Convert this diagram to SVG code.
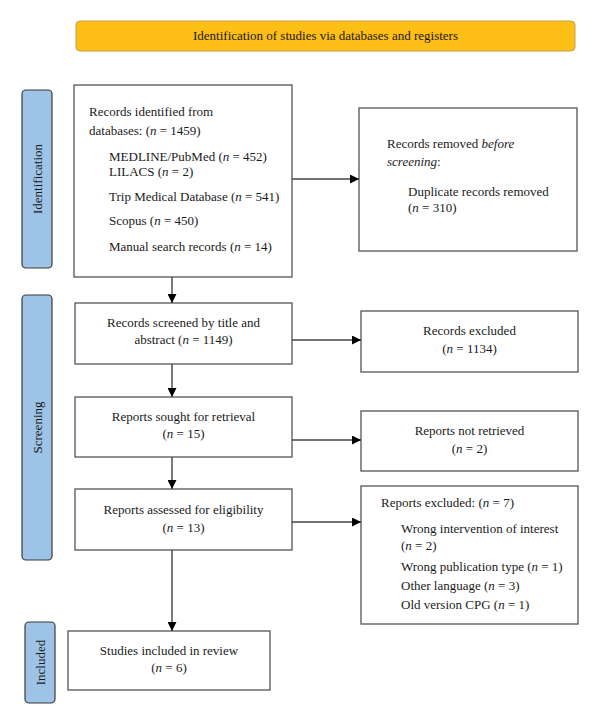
<svg xmlns="http://www.w3.org/2000/svg" width="600" height="725" viewBox="0 0 600 725">
<style>
text{font-family:"Liberation Serif","Times New Roman",serif;font-size:13px;fill:#1a1a1a}
.c{text-anchor:middle}
.i{font-style:italic}
.box{fill:#fff;stroke:#555;stroke-width:1.3}
.bar{fill:#9dc3e6;stroke:#3a3a3a;stroke-width:1.2}
.ln{stroke:#444;stroke-width:1.4;fill:none}
</style>
<defs>
<marker id="ah" viewBox="0 0 10 10" refX="10" refY="5" markerWidth="9" markerHeight="9" markerUnits="userSpaceOnUse" orient="auto">
<path d="M0,0 L10,5 L0,10 z" fill="#000"/>
</marker>
</defs>
<rect width="600" height="725" fill="#fff"/>

<g id="banner">
<rect x="76" y="21" width="499" height="30" rx="4" fill="#fdbe16" stroke="#c9a046" stroke-width="1"/>
<text x="325.5" y="40" class="c">Identification of studies via databases and registers</text>
</g>

<g id="phase-identification">
<rect class="bar" x="22" y="90" width="30" height="178" rx="4"/>
<text class="c" transform="translate(41.5,179) rotate(-90)">Identification</text>
</g>
<g id="phase-screening">
<rect class="bar" x="22" y="295" width="30" height="265" rx="4"/>
<text class="c" transform="translate(41.5,427.5) rotate(-90)">Screening</text>
</g>
<g id="phase-included">
<rect class="bar" x="25" y="622" width="30" height="81" rx="4"/>
<text class="c" transform="translate(44.5,662.5) rotate(-90)">Included</text>
</g>

<g id="records-identified">
<rect class="box" x="74" y="85" width="218" height="192"/>
<text x="89" y="116">Records identified from</text>
<text x="89" y="135">databases: (<tspan class="i">n</tspan> = 1459)</text>
<text x="109" y="160.5">MEDLINE/PubMed (<tspan class="i">n</tspan> = 452)</text>
<text x="109" y="175.5">LILACS (<tspan class="i">n</tspan> = 2)</text>
<text x="109" y="201">Trip Medical Database (<tspan class="i">n</tspan> = 541)</text>
<text x="109" y="225">Scopus (<tspan class="i">n</tspan> = 450)</text>
<text x="109" y="251">Manual search records (<tspan class="i">n</tspan> = 14)</text>
</g>

<g id="records-removed">
<rect class="box" x="359" y="108" width="218" height="143"/>
<text x="387" y="148">Records removed <tspan class="i">before</tspan></text>
<text x="387" y="166"><tspan class="i">screening</tspan>:</text>
<text x="408" y="196">Duplicate records removed</text>
<text x="408" y="212">(<tspan class="i">n</tspan> = 310)</text>
</g>

<g id="records-screened">
<rect class="box" x="75" y="303" width="217" height="61"/>
<text x="183.5" y="327" class="c">Records screened by title and</text>
<text x="183.5" y="344" class="c">abstract (<tspan class="i">n</tspan> = 1149)</text>
</g>

<g id="records-excluded">
<rect class="box" x="361" y="311" width="217" height="61"/>
<text x="469.5" y="335" class="c">Records excluded</text>
<text x="469.5" y="353" class="c">(<tspan class="i">n</tspan> = 1134)</text>
</g>

<g id="reports-sought">
<rect class="box" x="75" y="397" width="217" height="60"/>
<text x="183.5" y="421" class="c">Reports sought for retrieval</text>
<text x="183.5" y="438" class="c">(<tspan class="i">n</tspan> = 15)</text>
</g>

<g id="reports-not-retrieved">
<rect class="box" x="361" y="411" width="217" height="60"/>
<text x="469.5" y="435" class="c">Reports not retrieved</text>
<text x="469.5" y="453" class="c">(<tspan class="i">n</tspan> = 2)</text>
</g>

<g id="reports-assessed">
<rect class="box" x="75" y="489" width="217" height="61"/>
<text x="183.5" y="514" class="c">Reports assessed for eligibility</text>
<text x="183.5" y="532" class="c">(<tspan class="i">n</tspan> = 13)</text>
</g>

<g id="reports-excluded">
<rect class="box" x="361" y="486" width="217" height="138"/>
<text x="381" y="507">Reports excluded: (<tspan class="i">n</tspan> = 7)</text>
<text x="401" y="533">Wrong intervention of interest</text>
<text x="401" y="550">(<tspan class="i">n</tspan> = 2)</text>
<text x="401" y="571">Wrong publication type (<tspan class="i">n</tspan> = 1)</text>
<text x="401" y="590">Other language (<tspan class="i">n</tspan> = 3)</text>
<text x="401" y="609">Old version CPG (<tspan class="i">n</tspan> = 1)</text>
</g>

<g id="studies-included">
<rect class="box" x="68" y="631" width="202" height="59"/>
<text x="169" y="655" class="c">Studies included in review</text>
<text x="169" y="672" class="c">(<tspan class="i">n</tspan> = 6)</text>
</g>

<g id="connectors">
<line class="ln" x1="292" y1="179" x2="359" y2="179" marker-end="url(#ah)"/>
<line class="ln" x1="292" y1="340" x2="361" y2="340" marker-end="url(#ah)"/>
<line class="ln" x1="292" y1="440" x2="361" y2="440" marker-end="url(#ah)"/>
<line class="ln" x1="292" y1="522" x2="361" y2="522" marker-end="url(#ah)"/>
<line class="ln" x1="172" y1="277" x2="172" y2="303" marker-end="url(#ah)"/>
<line class="ln" x1="172" y1="364" x2="172" y2="397" marker-end="url(#ah)"/>
<line class="ln" x1="172" y1="457" x2="172" y2="489" marker-end="url(#ah)"/>
<line class="ln" x1="172" y1="550" x2="172" y2="631" marker-end="url(#ah)"/>
</g>
</svg>
